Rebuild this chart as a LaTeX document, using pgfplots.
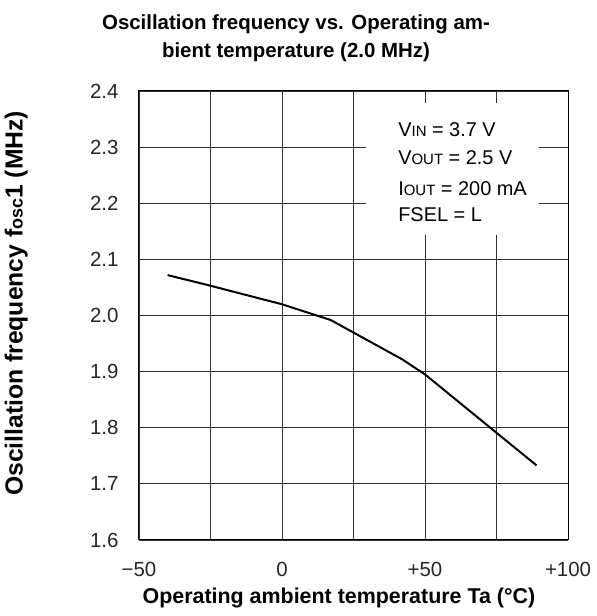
\documentclass[border=0pt]{standalone}
\usepackage{fontspec}
\setmainfont{Liberation Sans}
\usepackage{pgfplots}
\pgfplotsset{compat=1.18}
\begin{document}
\begin{tikzpicture}[x=1bp,y=1bp]
\path[use as bounding box] (-139,-76) rectangle (458,540);
\begin{axis}[
  at={(0,0)}, anchor=south west,
  scale only axis, width=429bp, height=449bp,
  xmin=-50, xmax=100, ymin=1.6, ymax=2.4,
  xtick={-50,-25,0,25,50,75,100},
  xticklabels={−50,,0,,+50,,+100},
  ytick={1.6,1.7,1.8,1.9,2.0,2.1,2.2,2.3,2.4},
  yticklabels={1.6,1.7,1.8,1.9,2.0,2.1,2.2,2.3,2.4},
  grid=major,
  major grid style={line width=0.8bp, color=black!80},
  major tick length=0pt,
  axis line style={line width=1bp, black},
  tick label style={font=\fontsize{20.5}{22}\selectfont, text=black!85},
  xticklabel style={yshift=-19bp},
  yticklabel style={xshift=-17bp},
  xlabel={\textbf{Operating ambient temperature Ta (°C)}},
  xlabel style={at={(axis description cs:0.466,-0.129)}, anchor=center, font=\fontsize{21.5}{24}\selectfont},
  ylabel={\textbf{Oscillation frequency f{\fontsize{18}{20}\selectfont osc}1 (MHz)}},
  ylabel style={at={(axis description cs:-0.286,0.527)}, anchor=center, rotate=0, font=\fontsize{24.8}{28}\selectfont},
  clip=false,
]
\addplot[line width=2bp, black] coordinates {
  (-40,2.072) (-25,2.053) (0,2.020) (17,1.992) (42,1.922) (50,1.895) (75,1.791) (89,1.733)
};
\fill[white] (axis cs:29.5,2.379) rectangle (axis cs:89.9,2.143);
\begin{scope}[every node/.style={anchor=base west, inner sep=0pt, font=\fontsize{20}{22}\selectfont}]
\node at (axis cs:40.6,2.3198) {V{\fontsize{15}{16}\selectfont IN} = 3.7 V};
\node at (axis cs:40.6,2.2699) {V{\fontsize{15}{16}\selectfont OUT} = 2.5 V};
\node at (axis cs:40.6,2.2146) {I{\fontsize{15}{16}\selectfont OUT} = 200 mA};
\node at (axis cs:40.6,2.1683) {FSEL = L};
\end{scope}
\end{axis}
\node[align=center, font=\bfseries\fontsize{20.5}{28}\selectfont] at (157,501.5) {Oscillation frequency vs. Operating am-\\bient temperature (2.0 MHz)};
\end{tikzpicture}
\end{document}
